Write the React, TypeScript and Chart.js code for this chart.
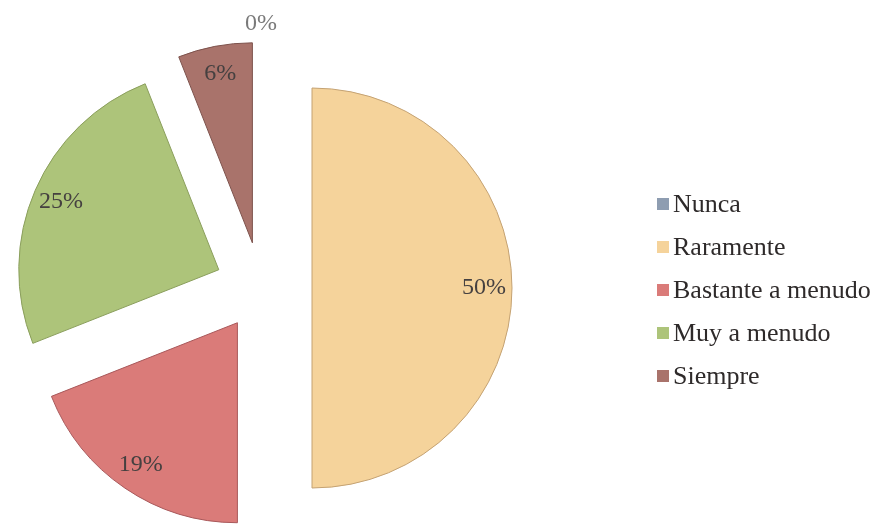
import React, { useEffect, useRef } from "react";
import { Chart, registerables, PieController } from "chart.js";

Chart.register(...registerables);

const categories = ["Nunca", "Raramente", "Bastante a menudo", "Muy a menudo", "Siempre"];
const percentages = [0, 50, 19, 25, 6];
const sliceColors = ["#8e9db1", "#f5d39b", "#da7b79", "#adc47a", "#a9736b"];
const edgeColors = ["#6b7a8c", "#c4a273", "#a8585a", "#8a9e5c", "#7d524c"];
const explodeDistances = [0, 51, 42, 46, 46];

const SERIF = "'Liberation Serif', 'Times New Roman', serif";

// Pie controller that pulls each slice out along its mid-angle (like an exploded Excel pie)
class ExplodedPieController extends (PieController as any) {
  static id = "explodedPie";
  draw() {
    const chart = (this as any).chart;
    const ctx = chart.ctx;
    const meta = (this as any)._cachedMeta;
    const ds = (this as any).getDataset();
    const explode: number[] = ds.explode || [];
    meta.data.forEach((arc: any, i: number) => {
      if (!arc.circumference) return;
      const mid = (arc.startAngle + arc.endAngle) / 2;
      const d = explode[i] || 0;
      ctx.save();
      ctx.translate(Math.cos(mid) * d, Math.sin(mid) * d);
      arc.draw(ctx, chart.chartArea);
      ctx.restore();
    });
  }
}
Chart.register(ExplodedPieController as any);

const labelPlugin = {
  id: "pctLabels",
  afterDatasetsDraw(chart: any) {
    const ctx = chart.ctx;
    const meta = chart.getDatasetMeta(0);
    const ds = chart.data.datasets[0];
    const explode: number[] = ds.explode || [];
    ctx.save();
    ctx.font = `24px ${SERIF}`;
    ctx.textAlign = "center";
    ctx.textBaseline = "middle";
    meta.data.forEach((arc: any, i: number) => {
      const p = arc.getProps(["x", "y", "startAngle", "endAngle", "outerRadius", "circumference"], true);
      const v = ds.data[i];
      const mid = (p.startAngle + p.endAngle) / 2;
      let cx = p.x;
      let cy = p.y;
      let dist: number;
      if (p.circumference > 0) {
        const t = explode[i] || 0;
        cx += Math.cos(mid) * t;
        cy += Math.sin(mid) * t;
        dist = p.outerRadius * 0.86;
        ctx.fillStyle = "#454040";
      } else {
        dist = p.outerRadius * 1.32;
        ctx.fillStyle = "#7a7a7a";
      }
      ctx.fillText(v + "%", cx + Math.cos(mid) * dist, cy + Math.sin(mid) * dist);
    });
    ctx.restore();
  },
};

export default function App() {
  const ref = useRef<HTMLCanvasElement | null>(null);

  useEffect(() => {
    if (!ref.current) return;
    const chart = new Chart(ref.current, {
      type: "explodedPie" as any,
      data: {
        labels: categories,
        datasets: [
          {
            data: percentages,
            backgroundColor: sliceColors,
            borderColor: edgeColors,
            borderWidth: 1,
            explode: explodeDistances,
            radius: 200,
            clip: false,
          } as any,
        ],
      },
      options: {
        responsive: false,
        animation: false,
        devicePixelRatio: 1,
        layout: { padding: { left: 0, right: 355, top: 48, bottom: 0 } },
        plugins: {
          legend: { display: false },
          tooltip: { enabled: false },
        },
      } as any,
      plugins: [labelPlugin],
    });
    return () => chart.destroy();
  }, []);

  return (
    <div
      style={{
        position: "absolute",
        left: 0,
        top: 0,
        width: 877,
        height: 528,
        background: "#ffffff",
        overflow: "hidden",
      }}
    >
      <canvas ref={ref} width={877} height={528} style={{ display: "block" }} />
      {categories.map((c, i) => (
        <div
          key={c}
          style={{
            position: "absolute",
            left: 657,
            top: 204 + i * 43 - 15,
            height: 30,
            lineHeight: "30px",
            display: "flex",
            alignItems: "center",
            fontFamily: SERIF,
            fontSize: 26,
            color: "#2e2a2a",
            whiteSpace: "nowrap",
          }}
        >
          <span
            style={{
              display: "inline-block",
              width: 12,
              height: 12,
              background: sliceColors[i],
              marginRight: 4,
            }}
          />
          <span>{c}</span>
        </div>
      ))}
    </div>
  );
}
